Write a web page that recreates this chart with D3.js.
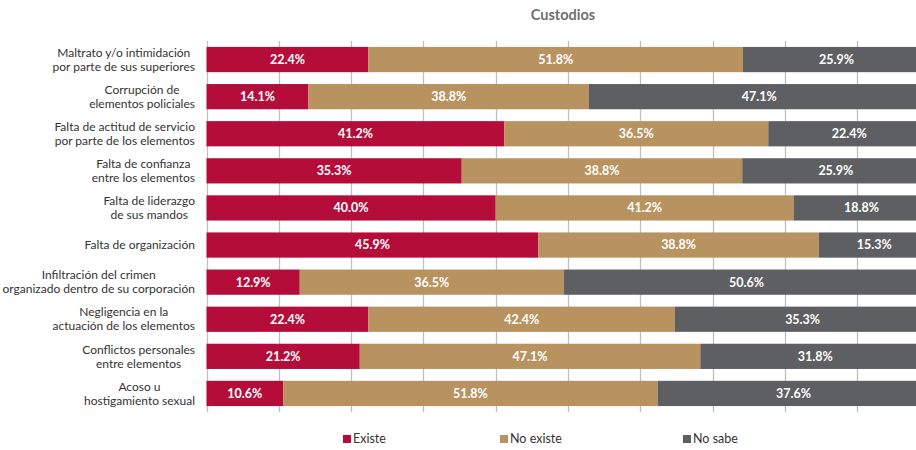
<!DOCTYPE html>
<html><head><meta charset="utf-8">
<script src="https://cdn.jsdelivr.net/npm/d3@7"></script>
<style>body{margin:0;background:#fff}</style></head>
<body><svg id="c" width="916" height="450"></svg>
<script>
const title = "Custodios";
const categories = [
  "Maltrato y/o intimidación\npor parte de sus superiores",
  "Corrupción de\nelementos policiales",
  "Falta de actitud de servicio\npor parte de los elementos",
  "Falta de confianza\nentre los elementos",
  "Falta de liderazgo\nde sus mandos",
  "Falta de organización",
  "Infiltración del crimen\norganizado dentro de su corporación",
  "Negligencia en la\nactuación de los elementos",
  "Conflictos personales\nentre elementos",
  "Acoso u\nhostigamiento sexual"
];
const existe   = [22.4, 14.1, 41.2, 35.3, 40.0, 45.9, 12.9, 22.4, 21.2, 10.6];
const noExiste = [51.8, 38.8, 36.5, 38.8, 41.2, 38.8, 36.5, 42.4, 47.1, 51.8];
const noSabe   = [25.9, 47.1, 22.4, 25.9, 18.8, 15.3, 50.6, 35.3, 31.8, 37.6];
const seriesNames = ["Existe", "No existe", "No sabe"];
const colors = ["#B50D3A", "#B8935F", "#5E5F63"];
const xTicks = [0, 10, 20, 30, 40, 50, 60, 70, 80, 90, 100];

(function () {
const svg = d3.select("#c");
const FONT = "Lato, 'Open Sans', sans-serif";
const pLeft = 206.5, pRight = 929.5, pTop = 41, pBottom = 412;

const x = d3.scaleLinear().domain([0, 100]).range([pLeft, pRight]);
const y = d3.scaleBand().domain(d3.range(categories.length)).range([pTop, pBottom]).paddingInner(0.32).paddingOuter(0.16);

svg.append("g").selectAll("line").data(xTicks).join("line")
  .attr("x1", d => Math.round(x(d)) + 0.5).attr("x2", d => Math.round(x(d)) + 0.5)
  .attr("y1", pTop).attr("y2", pBottom)
  .attr("stroke", "#BFBFBF").attr("stroke-width", 1.3);

const series = [existe, noExiste, noSabe];
const stacked = categories.map((c, i) => {
  let acc = 0;
  return series.map((s, k) => { const v = s[i]; const seg = {i, k, x0: acc, x1: acc + v, v}; acc += v; return seg; });
}).flat();

svg.append("g").selectAll("rect").data(stacked).join("rect")
  .attr("x", d => x(d.x0)).attr("width", d => x(d.x1) - x(d.x0))
  .attr("y", d => y(d.i)).attr("height", y.bandwidth())
  .attr("fill", d => colors[d.k]);

svg.append("g").selectAll("text").data(stacked).join("text")
  .attr("x", d => (x(d.x0) + x(d.x1)) / 2)
  .attr("y", d => y(d.i) + y.bandwidth() / 2)
  .attr("dy", "0.35em").attr("text-anchor", "middle")
  .attr("fill", "#fff").attr("font-family", FONT).attr("font-weight", "bold").attr("font-size", 12.5)
  .text(d => d.v.toFixed(1) + "%");

const lab = svg.append("g");
categories.forEach((c, i) => {
  const lines = c.split("\n");
  const g = lab.append("g");
  const cy = y(i) + y.bandwidth() / 2;
  const lh = 14;
  const t = g.selectAll("text").data(lines).join("text")
    .attr("y", (d, j) => cy + (j - (lines.length - 1) / 2) * lh)
    .attr("dy", "0.35em").attr("text-anchor", "middle")
    .attr("font-family", FONT).attr("font-size", 12).attr("fill", "#333333")
    .text(d => d);
  let maxW = 0; t.each(function(){ maxW = Math.max(maxW, this.getComputedTextLength()); });
  t.attr("x", 195 - maxW / 2);
});

svg.append("text").attr("x", 563).attr("y", 15).attr("dy", "0.35em").attr("text-anchor", "middle")
  .attr("font-family", FONT).attr("font-weight", "bold").attr("font-size", 14.5).attr("fill", "#6F6F6F")
  .text(title);

const legX = [343, 500, 683];
const leg = svg.append("g").selectAll("g").data(seriesNames).join("g")
  .attr("transform", (d, k) => `translate(${legX[k]},439)`);
leg.append("rect").attr("x", 0).attr("y", -4).attr("width", 8).attr("height", 8).attr("fill", (d, k) => colors[k]);
leg.append("text").attr("x", 10).attr("y", 0).attr("dy", "0.35em")
  .attr("font-family", FONT).attr("font-size", 12.5).attr("fill", "#333333").text(d => d);
})();
</script></body></html>
